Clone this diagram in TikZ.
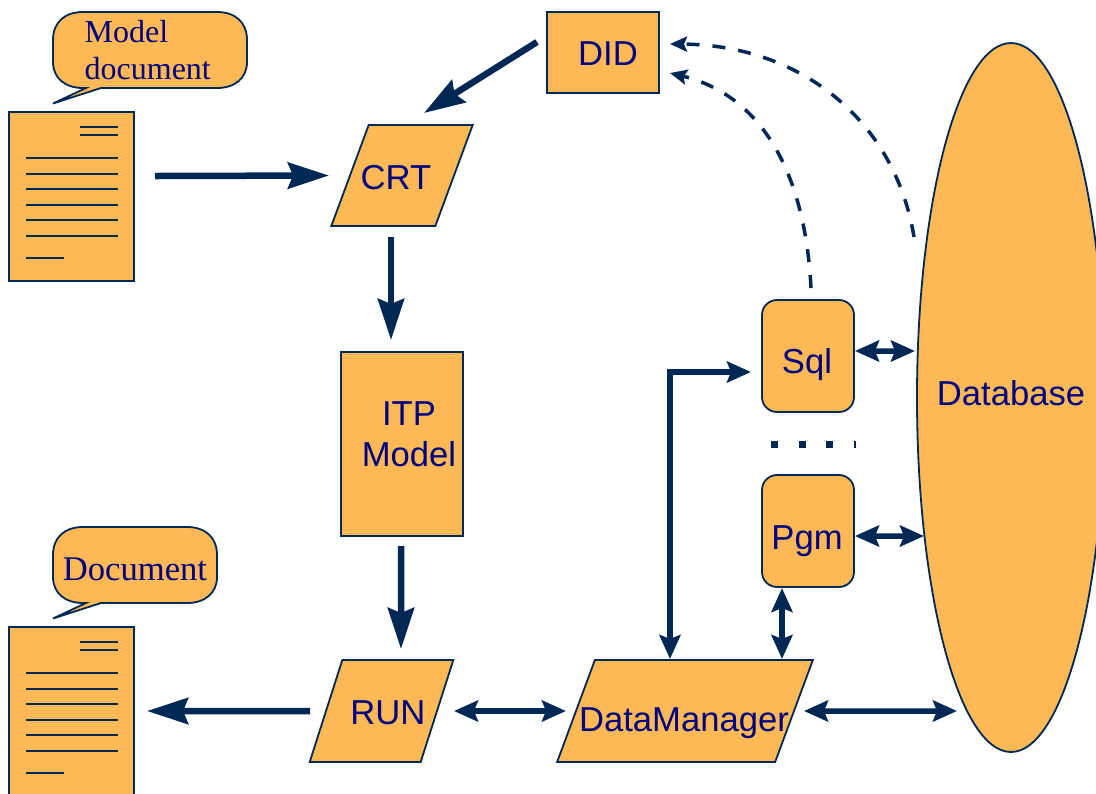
\documentclass[tikz,border=0pt]{standalone}
\usepackage{fontspec}
\setmainfont{Liberation Sans}
\newfontfamily\serifbubble{Liberation Serif}
\usetikzlibrary{arrows.meta,shapes.geometric}

\definecolor{boxfill}{HTML}{FDB956}
\definecolor{linenavy}{HTML}{002855}
\definecolor{textnavy}{HTML}{000080}

\tikzset{
    shapebox/.style={draw=linenavy, fill=boxfill, line width=0.018cm, inner sep=0, outer sep=0},
    plainbox/.style={shapebox, rectangle, minimum width=#1},
    progbox/.style={shapebox, rectangle, rounded corners=0.15cm, minimum width=0.92cm, minimum height=1.12cm},
    slanted/.style={shapebox, rectangle, xslant=0.37, minimum height=1.02cm, minimum width=#1},
    docline/.style={linenavy, line width=0.02cm},
    boxtext/.style={text=textnavy, font=\fontsize{9.85}{11.7}\selectfont, anchor=base},
    bubbletext/.style={text=textnavy, inner sep=0, font=\serifbubble\fontsize{9.1}{10.6}\selectfont},
    flow/.style={draw=linenavy, line width=0.065cm, -{Stealth[length=0.41cm,width=0.26cm,inset=0.05cm]}},
    both/.style={draw=linenavy, line width=0.055cm, {Stealth[length=0.24cm,width=0.21cm,inset=0.04cm]}-{Stealth[length=0.24cm,width=0.21cm,inset=0.04cm]}},
    query/.style={draw=linenavy, line width=0.035cm, dash pattern=on 0.13cm off 0.13cm, -{Stealth[length=0.17cm,width=0.15cm,inset=0.03cm]}}
}

\begin{document}
\begin{tikzpicture}

    \clip (0,0) rectangle (10.96,-7.93);

    % documents and their bubbles
    \foreach \docname/\docy/\bubbleright in {modeldoc/0/2.47, outdoc/5.15/2.17} {
        \begin{scope}[yshift=-\docy cm]
            \draw[shapebox] (0.53,-0.40) .. controls (0.53,-0.22) and (0.65,-0.12) .. (0.83,-0.12)
                -- (\bubbleright-0.30,-0.12) .. controls (\bubbleright-0.12,-0.12) and (\bubbleright,-0.22) .. (\bubbleright,-0.40)
                -- (\bubbleright,-0.62) .. controls (\bubbleright,-0.78) and (\bubbleright-0.12,-0.88) .. (\bubbleright-0.30,-0.88)
                -- (1.01,-0.88) -- (0.53,-1.035) -- (0.86,-0.88) -- (0.83,-0.88)
                .. controls (0.65,-0.88) and (0.53,-0.78) .. (0.53,-0.62) -- cycle;
            \node[plainbox=1.25cm, minimum height=1.69cm] (\docname) at (0.715,-1.965) {};
            \draw[docline] (0.80,-1.27) -- (1.18,-1.27);
            \draw[docline] (0.80,-1.35) -- (1.18,-1.35);
            \foreach \liney in {1.58,1.735,1.89,2.045,2.20,2.355} {
                \draw[docline] (0.26,-\liney) -- (1.18,-\liney);
            }
            \draw[docline] (0.26,-2.58) -- (0.64,-2.58);
        \end{scope}
    }

    \node[bubbletext, align=left, anchor=west] (modeltext) at (0.84,-0.50) {Model\\document};
    \node[bubbletext, font=\serifbubble\fontsize{9.85}{11}\selectfont] (outtext) at (1.35,-5.69) {Document};

    % main column
    \node[plainbox=1.12cm, minimum height=0.81cm] (did) at (6.03,-0.525) {};
    \node[slanted=1.04cm, minimum height=1.01cm] (crt) at (4.02,-1.755) {};
    \node[plainbox=1.22cm, minimum height=1.84cm] (itp) at (4.02,-4.44) {};
    \node[slanted=1.11cm, xslant=-0.05] (run) at (3.815,-7.11) {};
    \node[slanted=2.18cm] (dm) at (6.85,-7.11) {};

    \node[progbox] (sql) at (8.08,-3.56) {};
    \node[progbox] (pgm) at (8.08,-5.31) {};
    \node[shapebox, ellipse, minimum width=1.88cm, minimum height=7.09cm] (db) at (10.11,-3.975) {};

    \node[boxtext] (didtext) at (6.08,-0.65) {DID};
    \node[boxtext] (crttext) at (3.96,-1.89) {CRT};
    \node[boxtext, anchor=center, align=center] (itptext) at (4.09,-4.34) {ITP\\Model};
    \node[boxtext] (runtext) at (3.88,-7.24) {RUN};
    \node[boxtext] (dmtext) at (6.84,-7.31) {DataManager};
    \node[boxtext] (sqltext) at (8.07,-3.73) {Sql};
    \node[boxtext] (pgmtext) at (8.07,-5.49) {Pgm};
    \node[boxtext] (dbtext) at (10.11,-4.05) {Database};

    % connectors
    \draw[flow] ([xshift=-0.66cm,yshift=0.105cm]did.center) -- ([xshift=0.22cm,yshift=0.625cm]crt.center);
    \draw[flow] ([xshift=0.835cm,yshift=0.205cm]modeldoc.center) -- ([xshift=-0.73cm]crt.center);
    \draw[flow] ([xshift=-0.11cm,yshift=-0.615cm]crt.center) -- ([xshift=-0.11cm,yshift=1.04cm]itp.center);
    \draw[flow] ([xshift=-0.01cm,yshift=-1.02cm]itp.center) -- ([xshift=0.195cm,yshift=0.62cm]run.center);
    \draw[flow] ([xshift=-0.715cm]run.center) -- ([xshift=0.755cm,yshift=0.005cm]outdoc.center);

    \draw[both] ([xshift=0.725cm]run.center) -- ([xshift=-1.19cm]dm.center);
    \draw[both] ([xshift=1.19cm]dm.center) -- ([xshift=-0.54cm,yshift=-3.135cm]db.center);
    \draw[both] ([xshift=0.97cm,yshift=0.52cm]dm.center) -- ([xshift=-0.26cm,yshift=-0.57cm]pgm.center);
    \draw[both] ([xshift=0.47cm,yshift=-0.05cm]pgm.center) -- ([xshift=-0.87cm,yshift=-1.385cm]db.center);
    \draw[both] ([xshift=0.47cm,yshift=0.05cm]sql.center) -- ([xshift=-0.96cm,yshift=0.465cm]db.center);
    \draw[both, line width=0.06cm] ([xshift=-0.15cm,yshift=0.52cm]dm.center) |- ([xshift=-0.57cm,yshift=-0.16cm]sql.center);

    \draw[query] ([xshift=0.03cm,yshift=0.68cm]sql.center) .. controls (8.05,-1.7) and (7.6,-0.95) .. ([xshift=0.67cm,yshift=-0.205cm]did.center);
    \draw[query] ([xshift=-0.97cm,yshift=1.605cm]db.center) .. controls (8.95,-1.2) and (8.0,-0.45) .. ([xshift=0.67cm,yshift=0.085cm]did.center);

    % dots between Sql and Pgm
    \coordinate (dotsleft) at (7.71,-4.44);
    \coordinate (dotsright) at (8.555,-4.44);
    \draw[linenavy, line width=0.07cm, dash pattern=on 0.07cm off 0.205cm] (dotsleft) -- (dotsright);

\end{tikzpicture}
\end{document}
